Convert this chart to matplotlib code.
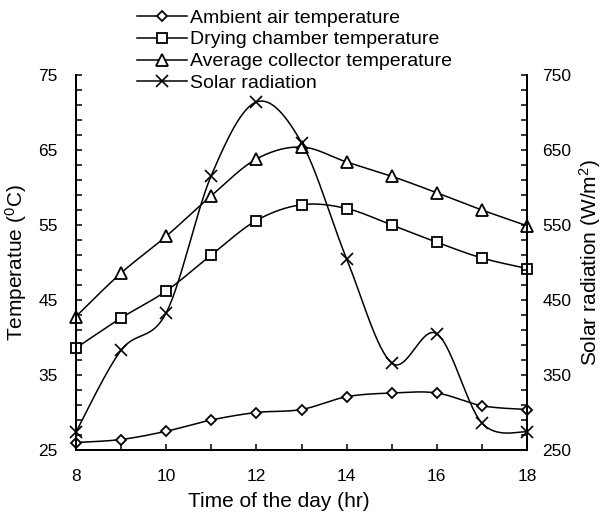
import numpy as np
import matplotlib
matplotlib.use("Agg")
import matplotlib.pyplot as plt
from matplotlib.lines import Line2D
from matplotlib.ticker import MultipleLocator

plt.rcParams['font.family'] = ['Liberation Sans', 'DejaVu Sans']
plt.rcParams['mathtext.fontset'] = 'custom'
plt.rcParams['mathtext.rm'] = 'Liberation Sans'
plt.rcParams['mathtext.it'] = 'Liberation Sans'

hours = [8, 9, 10, 11, 12, 13, 14, 15, 16, 17, 18]
ambient = [26.0, 26.4, 27.5, 29.0, 30.0, 30.4, 32.1, 32.6, 32.6, 30.9, 30.4]
chamber = [38.6, 42.6, 46.2, 51.0, 55.6, 57.7, 57.2, 55.0, 52.7, 50.6, 49.2]
collector = [42.8, 48.6, 53.5, 58.9, 63.8, 65.4, 63.4, 61.5, 59.3, 57.0, 54.9]
solar = [274, 383, 433, 616, 714, 660, 505, 366, 405, 286, 274]

labels = ["Ambient air temperature", "Drying chamber temperature",
          "Average collector temperature", "Solar radiation"]


def smooth(x, y, n=30):
    # excel-like smoothed line (bezier through the points)
    x = np.asarray(x, float)
    y = np.asarray(y, float)
    px = np.concatenate([[x[0]], x, [x[-1]]])
    py = np.concatenate([[y[0]], y, [y[-1]]])
    t = np.linspace(0, 1, n)[:, None]
    xs, ys = [], []
    for i in range(len(x) - 1):
        p0 = np.array([px[i], py[i]])
        p1 = np.array([px[i + 1], py[i + 1]])
        p2 = np.array([px[i + 2], py[i + 2]])
        p3 = np.array([px[i + 3], py[i + 3]])
        c1 = p1 + (p2 - p0) / 6
        c2 = p2 - (p3 - p1) / 6
        b = ((1 - t) ** 3) * p1 + 3 * ((1 - t) ** 2) * t * c1 + 3 * (1 - t) * t ** 2 * c2 + t ** 3 * p2
        xs.append(b[:, 0])
        ys.append(b[:, 1])
    return np.concatenate(xs), np.concatenate(ys)


fig = plt.figure(figsize=(6.08, 5.15), dpi=100)
ax = fig.add_axes([76 / 608, 1 - 450 / 515, 451 / 608, 375 / 515])
ax2 = ax.twinx()

styles = [("D", 5.5), ("s", 7), ("^", 8.5)]
for vals, (m, ms) in zip([ambient, chamber, collector], styles):
    sx, sy = smooth(hours, vals)
    ax.plot(sx, sy, color="black", lw=1.1, zorder=2)
    ax.plot(hours, vals, ls="none", marker=m, ms=ms, mfc="white", mec="black",
            mew=1.3, zorder=3, clip_on=False)

sx, sy = smooth(hours, solar)
ax2.plot(sx, sy, color="black", lw=1.1)
ax2.plot(hours, solar, ls="none", marker="x", ms=9, mec="black", mew=1.2, clip_on=False)

ax.set_xlim(8, 18)
ax.set_ylim(25, 75)
ax2.set_ylim(250, 750)

ax.xaxis.set_major_locator(MultipleLocator(2))
ax.xaxis.set_minor_locator(MultipleLocator(1))
ax.yaxis.set_major_locator(MultipleLocator(10, offset=5))
ax.yaxis.set_minor_locator(MultipleLocator(2, offset=1))
ax2.yaxis.set_major_locator(MultipleLocator(100, offset=50))
ax2.yaxis.set_minor_locator(MultipleLocator(20, offset=10))

for a in (ax, ax2):
    a.spines['top'].set_visible(False)
    for s in a.spines.values():
        s.set_linewidth(1.4)
    a.tick_params(which="both", direction="in", length=4, width=1.1, labelsize=12.5)

ax.tick_params(axis="x", which="both", top=False, pad=14)
ax.tick_params(axis="y", which="both", right=False, pad=13)
ax2.tick_params(axis="y", which="both", left=False, pad=11)

ax.set_xlabel("Time of the day (hr)", fontsize=15)
ax.set_ylabel(r"Temperatue ($^0$C)", fontsize=15)
ax2.set_ylabel(r"Solar radiation (W/m$^2$)", fontsize=15)
ax.xaxis.set_label_coords(0.45, -0.112)
ax.yaxis.set_label_coords(-0.105, 0.5)
ax2.yaxis.set_label_coords(1.112, 0.5)

handles = [
    Line2D([], [], color="black", lw=1.1, marker="D", ms=5.5, mfc="white", mew=1.3),
    Line2D([], [], color="black", lw=1.1, marker="s", ms=7, mfc="white", mew=1.3),
    Line2D([], [], color="black", lw=1.1, marker="^", ms=8.5, mfc="white", mew=1.3),
    Line2D([], [], color="black", lw=1.1, marker="x", ms=9, mew=1.2),
]
fig.legend(handles, labels, loc="upper left", bbox_to_anchor=(137 / 608, 1 - 9 / 515),
           frameon=False, fontsize=14, handlelength=2.55, handletextpad=0.18,
           labelspacing=0.22, borderpad=0, borderaxespad=0)

fig.savefig("out.png", dpi=100)
